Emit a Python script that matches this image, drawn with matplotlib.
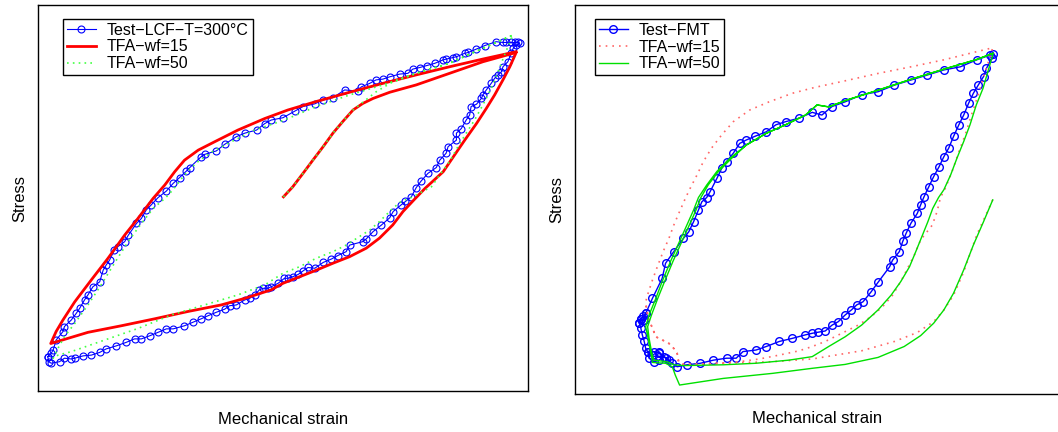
import matplotlib
matplotlib.use("Agg")
import matplotlib.pyplot as plt

plt.rcParams["font.family"] = ["Liberation Sans", "DejaVu Sans"]

# normalised strain / stress (percent of axis range)
# ---- left panel: LCF test at 300 °C ----
lcf_test_x = [2.0, 2.2, 2.7, 4.4, 5.4, 6.8, 7.5, 9.2, 10.9, 12.6, 13.9, 16.0, 18.0, 19.7, 21.1,
              22.8, 24.5, 26.2, 27.6, 29.9, 31.6, 33.3, 34.7, 36.4, 38.1, 39.1, 40.5, 42.2, 43.2,
              44.2, 45.2, 45.9, 46.9, 47.6, 49.0, 50.3, 51.0, 52.0, 53.1, 54.1, 55.1, 56.5, 58.2,
              59.9, 61.2, 62.9, 63.6, 66.3, 67.0, 68.4, 70.1, 71.8, 72.5, 74.1, 75.0, 76.2, 77.2,
              78.2, 79.6, 81.3, 82.0, 83.3, 83.7, 85.4, 85.4, 86.4, 87.4, 88.1, 88.4, 89.5, 90.5,
              90.8, 91.5, 92.5, 93.2, 93.9, 94.6, 94.9, 95.9, 96.6, 97.0, 97.6, 98.3, 97.9, 97.3,
              96.6, 95.6, 94.9, 93.5, 91.2, 89.5, 87.8, 87.1, 85.4, 84.7, 83.3, 82.7, 81.0, 79.3,
              77.9, 76.5, 75.5, 73.8, 71.8, 70.4, 69.0, 67.7, 66.0, 65.3, 62.6, 60.2, 58.2, 56.5,
              54.1, 52.4, 50.0, 47.6, 46.3, 44.6, 42.2, 40.5, 38.1, 36.4, 34.0, 33.3, 31.0, 30.3,
              28.9, 27.6, 26.2, 24.5, 23.1, 22.1, 21.1, 20.1, 18.4, 17.7, 16.3, 15.6, 14.6, 13.9,
              13.3, 12.6, 11.2, 10.2, 9.5, 8.5, 7.8, 6.8, 5.4, 5.1, 3.7, 3.1, 2.7, 2.0]
lcf_test_y = [8.9, 7.6, 7.2, 7.6, 8.5, 8.3, 8.5, 9.1, 9.3, 10.0, 10.9, 11.7, 12.6, 13.5, 13.5,
              14.3, 15.2, 16.1, 16.1, 16.9, 17.8, 18.7, 19.5, 20.4, 21.2, 22.1, 22.3, 23.6, 24.0,
              24.9, 26.2, 26.6, 26.6, 27.0, 27.9, 29.2, 29.2, 29.6, 30.2, 31.1, 32.0, 31.8, 33.3,
              34.2, 35.1, 36.1, 37.8, 38.7, 39.4, 41.3, 43.0, 44.9, 46.5, 48.2, 49.1, 50.3, 52.7,
              54.4, 56.4, 57.9, 59.8, 61.6, 63.3, 65.0, 66.8, 68.0, 70.2, 71.5, 73.7, 74.3, 75.8,
              76.7, 78.0, 79.7, 81.0, 81.9, 82.7, 84.0, 85.3, 87.5, 88.8, 89.6, 90.1, 90.3, 90.3,
              90.3, 90.3, 90.3, 90.5, 89.5, 88.6, 87.7, 87.5, 86.6, 86.4, 86.0, 85.8, 84.9, 84.3,
              83.8, 83.4, 82.3, 82.1, 81.4, 80.8, 80.6, 79.7, 78.8, 77.7, 78.0, 76.0, 75.4, 74.4,
              73.7, 72.5, 70.8, 70.2, 69.3, 67.6, 66.8, 65.9, 63.9, 62.2, 61.3, 60.7, 57.9, 57.0,
              55.3, 53.8, 51.8, 50.1, 48.2, 46.9, 44.7, 43.4, 40.3, 38.7, 37.4, 36.5, 33.9, 32.6,
              31.3, 28.3, 27.0, 24.9, 23.6, 21.4, 20.1, 18.4, 16.7, 15.4, 13.2, 10.6, 9.8, 8.9]

lcf_wf15_x = [50.1, 52.0, 54.1, 56.1, 58.2, 60.2, 62.2, 64.3, 66.3, 68.4, 71.8, 77.2, 84.0, 90.8,
              97.6, 96.3, 94.9, 93.2, 91.5, 89.5, 87.1, 85.0, 82.7, 79.0, 76.8, 74.5, 72.4, 69.7,
              67.0, 63.6, 60.2, 56.8, 53.4, 50.0, 47.6, 42.2, 37.4, 30.6, 23.8, 17.0, 10.2, 2.6,
              3.7, 5.1, 7.5, 10.9, 14.3, 17.7, 20.4, 23.5, 25.9, 27.9, 29.9, 32.7, 36.1, 40.8,
              46.3, 51.0, 56.8, 63.6, 70.4, 77.2, 84.0, 90.8, 97.6]
lcf_wf15_y = [50.3, 52.9, 56.4, 59.8, 63.3, 66.8, 69.8, 72.8, 74.5, 75.8, 77.4, 79.3, 82.3, 85.3,
              87.7, 84.0, 80.6, 76.7, 73.2, 69.3, 65.0, 61.1, 56.8, 52.5, 49.6, 46.5, 43.0, 39.6,
              37.0, 34.8, 33.1, 31.3, 29.6, 27.9, 26.2, 24.0, 22.3, 20.6, 18.7, 16.9, 15.2, 12.3,
              15.4, 18.4, 23.1, 28.8, 34.4, 40.4, 44.7, 49.9, 53.4, 56.8, 59.8, 62.4, 64.6, 67.6,
              70.6, 72.8, 75.0, 77.4, 79.7, 81.9, 84.0, 86.0, 87.9]

lcf_wf50_x = [50.1, 52.0, 54.1, 56.1, 58.2, 60.2, 62.2, 64.3, 66.3, 69.0, 72.0, 77.2, 84.0, 90.8,
              96.9, 95.2, 93.9, 92.5, 90.8, 89.1, 87.4, 85.7, 84.0, 82.0, 80.3, 76.5, 74.1, 72.4,
              69.7, 67.7, 65.6, 62.9, 60.2, 56.8, 53.4, 50.0, 46.3, 40.8, 34.0, 27.2, 20.4, 13.6,
              6.8, 4.1, 3.1, 4.1, 5.4, 7.5, 10.2, 12.9, 15.6, 18.4, 21.1, 23.5, 26.0, 27.6, 29.9,
              32.4, 35.6, 39.5, 44.2, 50.3, 56.8, 63.6, 70.4, 77.2, 84.0, 90.8, 96.9]
lcf_wf50_y = [50.3, 52.9, 56.4, 59.8, 63.3, 66.8, 69.8, 72.8, 74.8, 77.5, 79.8, 82.3, 84.9, 88.8,
              92.2, 87.0, 82.7, 78.4, 74.1, 70.2, 66.8, 63.3, 59.4, 56.0, 52.9, 50.3, 49.1, 47.3,
              43.9, 41.7, 40.0, 37.8, 36.1, 34.4, 32.2, 30.5, 27.5, 24.9, 22.3, 19.7, 16.2, 13.2,
              10.2, 9.3, 8.5, 11.1, 14.1, 17.5, 22.3, 27.5, 33.1, 38.7, 43.4, 47.3, 50.0, 52.2, 56.0,
              59.2, 62.0, 64.6, 67.6, 70.2, 73.7, 76.7, 79.3, 82.3, 84.9, 88.8, 92.2]

# ---- right panel: FMT test ----
fmt_test_x = [13.3, 13.6, 14.3, 14.6, 16.0, 18.0, 18.7, 20.4, 22.4, 23.5, 24.5, 25.5, 26.2, 27.2,
              27.9, 29.3, 30.3, 31.3, 32.7, 34.0, 35.4, 37.1, 39.5, 41.5, 43.5, 46.3, 49.0, 51.0,
              53.1, 55.8, 59.2, 62.6, 66.0, 69.4, 72.8, 76.2, 79.6, 83.0, 85.7, 86.4, 86.1, 85.0,
              84.4, 83.3, 82.3, 81.3, 80.3, 79.3, 78.2, 77.2, 76.2, 75.2, 74.1, 73.1, 72.1, 71.4,
              70.7, 69.4, 68.4, 67.7, 67.0, 65.6, 65.0, 62.6, 61.2, 59.5, 58.2, 57.1, 55.8, 54.4,
              53.1, 51.7, 50.3, 49.0, 47.6, 44.9, 42.2, 39.5, 37.4, 34.7, 33.3, 31.3, 28.6, 25.9,
              23.1, 21.1, 20.1, 18.7, 17.3, 16.0, 15.0, 15.3, 16.3, 17.3, 18.4, 19.4, 17.3, 16.3,
              15.0, 14.6, 14.3, 13.9, 13.6, 13.3, 13.6, 14.3, 14.0, 14.6]
fmt_test_y = [18.2, 19.4, 18.9, 20.7, 24.6, 29.7, 33.6, 36.6, 40.0, 41.7, 44.3, 47.3, 49.4, 50.5,
              52.0, 55.4, 58.0, 59.7, 61.9, 64.4, 65.3, 66.2, 67.4, 69.2, 70.0, 70.9, 72.4, 71.7,
              73.9, 75.1, 76.9, 77.7, 79.4, 80.7, 82.0, 83.3, 84.1, 85.9, 87.1, 87.3, 86.3, 83.7,
              81.6, 79.4, 77.3, 74.7, 71.7, 69.2, 66.2, 63.2, 61.0, 58.4, 55.9, 53.3, 50.7, 48.6,
              46.4, 43.9, 41.3, 39.2, 36.6, 34.4, 32.7, 28.7, 26.3, 23.7, 22.9, 21.6, 20.3, 18.6,
              17.7, 16.2, 15.9, 15.6, 15.2, 14.3, 13.5, 12.2, 11.3, 10.9, 9.2, 9.2, 8.7, 7.9,
              7.5, 7.0, 7.9, 9.2, 10.9, 10.0, 10.9, 9.2, 8.3, 8.7, 9.6, 8.7, 10.5, 10.9,
              10.9, 11.7, 13.5, 15.2, 16.9, 18.2, 19.4, 18.9, 20.0, 20.7]

fmt_wf15_x = [86.3, 83.0, 80.3, 78.2, 76.2, 74.1, 70.7, 66.0, 59.2, 52.4, 49.0, 40.8, 30.6, 22.4,
              21.4, 21.1, 20.4, 19.4, 18.0, 16.7, 16.0, 15.3, 14.8, 14.6, 15.1, 16.0, 17.0, 18.2,
              19.4, 20.4, 21.6, 22.8, 23.8, 25.2, 26.5, 28.2, 30.3, 32.7, 36.1, 40.1, 44.9, 49.5,
              55.8, 62.6, 69.4, 76.2, 83.0, 86.3, 85.4, 84.3, 83.3, 81.9, 80.6, 79.2, 77.9, 76.5,
              75.5, 74.8, 73.8, 71.4, 70.1, 68.7, 67.3, 65.6, 63.6, 61.2, 58.5, 55.1, 51.7, 49.0,
              46.3, 42.2, 38.1, 34.0, 29.9, 25.9, 22.4, 21.4, 21.1, 20.4, 19.4, 18.0, 16.7, 16.0,
              15.3, 14.8, 14.6]
fmt_wf15_y = [49.9, 40.9, 31.4, 25.4, 21.6, 18.6, 15.8, 13.5, 11.1, 9.7, 9.0, 8.3, 7.9, 7.6,
              8.3, 10.5, 11.7, 13.0, 13.9, 14.7, 16.9, 19.0, 21.6, 23.7, 25.9, 29.3, 32.7, 36.6,
              40.0, 43.4, 46.9, 50.3, 52.9, 56.3, 59.7, 63.2, 66.6, 70.0, 73.0, 75.1, 77.3, 78.8,
              80.5, 82.4, 84.1, 85.9, 88.0, 89.0, 85.4, 81.1, 76.9, 71.7, 66.6, 61.9, 57.2, 52.9,
              50.5, 46.9, 43.4, 39.6, 35.7, 32.3, 28.9, 25.4, 22.5, 19.9, 17.7, 15.6, 13.5, 12.2,
              11.1, 10.0, 9.0, 8.3, 7.9, 7.6, 7.6, 8.3, 10.5, 11.7, 13.0, 13.9, 14.7, 16.9,
              19.0, 21.6, 23.7]

fmt_wf50_x = [86.3, 84.4, 82.3, 80.3, 78.2, 76.2, 74.1, 71.4, 68.0, 62.6, 55.8, 49.0, 40.8, 30.6,
              21.6, 20.7, 20.1, 18.7, 16.0, 15.6, 15.1, 14.6, 15.3, 16.7, 18.0, 19.7, 21.4, 23.1,
              24.5, 25.5, 27.2, 29.3, 32.0, 35.4, 39.5, 43.5, 47.6, 50.0, 52.4, 56.0, 62.6, 69.4,
              76.2, 83.0, 86.4, 85.3, 84.3, 82.9, 81.6, 80.3, 78.9, 77.6, 76.2, 75.1, 73.9, 72.9,
              71.8, 70.4, 69.1, 67.3, 65.3, 62.6, 59.2, 55.8, 52.4, 49.0, 44.2, 37.4, 30.6, 22.4,
              20.4, 19.0, 16.3, 15.8, 15.3, 15.0, 15.8, 17.1, 18.5, 20.2, 21.9, 23.6, 25.0, 26.0,
              27.5, 29.5, 32.2, 35.4, 39.5, 43.5, 47.6, 50.0, 52.4, 56.0, 62.6, 69.4, 76.2, 83.0,
              86.4]
fmt_wf50_y = [49.9, 44.3, 38.3, 31.9, 25.9, 21.6, 18.2, 15.0, 12.2, 9.4, 7.6, 6.6, 5.3, 4.0,
              2.3, 4.9, 7.0, 7.9, 8.1, 10.9, 14.3, 17.3, 20.3, 24.6, 28.9, 34.0, 38.7, 43.4,
              47.3, 50.5, 53.7, 57.2, 60.6, 64.0, 67.0, 69.2, 71.7, 74.3, 73.8, 75.5, 78.1, 80.9,
              83.5, 86.0, 87.6, 82.9, 78.6, 74.3, 69.2, 64.9, 60.6, 56.3, 52.5, 50.5, 47.7, 44.3,
              40.9, 36.6, 32.7, 28.9, 25.4, 21.6, 17.7, 14.7, 12.2, 9.6, 8.7, 7.9, 7.5, 7.3,
              7.5, 8.3, 8.7, 10.9, 14.3, 17.3, 20.3, 24.6, 28.9, 34.0, 38.7, 43.4, 47.3, 50.5,
              53.7, 57.0, 60.4, 64.0, 67.0, 69.2, 71.7, 74.3, 73.8, 75.5, 78.1, 80.9, 83.5, 86.0,
              87.6]

BLUE = "#0000ff"
LABEL_SIZE = 12
LEGEND_SIZE = 11.5


def style_axes(ax, xpad, ypad):
    ax.set_xlim(0, 100)
    ax.set_ylim(0, 100)
    ax.set_xticks([])
    ax.set_yticks([])
    for sp in ax.spines.values():
        sp.set_linewidth(1.0)
        sp.set_color("black")
    ax.set_xlabel("Mechanical strain", fontsize=LABEL_SIZE, labelpad=xpad)
    ax.set_ylabel("Stress", fontsize=LABEL_SIZE, labelpad=ypad)


def add_legend(ax, anchor):
    leg = ax.legend(loc="upper left", bbox_to_anchor=anchor, borderaxespad=0,
                    fontsize=LEGEND_SIZE, fancybox=False, framealpha=1, edgecolor="black",
                    borderpad=0.25, labelspacing=0.1, handlelength=1.8, handletextpad=0.7)
    leg.get_frame().set_linewidth(1.0)


fig = plt.figure(figsize=(10.58, 4.32), dpi=100)

ax1 = fig.add_axes([0.0359, 0.0949, 0.4631, 0.8935])
ax1.plot(lcf_test_x, lcf_test_y, color=BLUE, lw=0.8, marker="o", ms=5, mfc="none", mew=0.8,
         label="Test\u2212LCF\u2212T=300\u00b0C")
ax1.plot(lcf_wf15_x, lcf_wf15_y, color="red", lw=2.0, label="TFA\u2212wf=15")
ax1.plot(lcf_wf50_x, lcf_wf50_y, color="#44ff44", lw=1.2, ls=(0, (1, 2.5)), label="TFA\u2212wf=50")
style_axes(ax1, 15, 8)
add_legend(ax1, (0.051, 0.964))

ax2 = fig.add_axes([0.5435, 0.0880, 0.4575, 0.9005])
ax2.plot(fmt_test_x, fmt_test_y, color=BLUE, lw=1.0, marker="o", ms=5.5, mfc="none", mew=1.0,
         label="Test\u2212FMT")
ax2.plot(fmt_wf15_x, fmt_wf15_y, color="#ff6666", lw=1.2, ls=(0, (1, 3)), label="TFA\u2212wf=15")
ax2.plot(fmt_wf50_x, fmt_wf50_y, color="#00e000", lw=1.0, label="TFA\u2212wf=50")
style_axes(ax2, 12, 8)
add_legend(ax2, (0.041, 0.964))

fig.savefig("out.png", dpi=100)
